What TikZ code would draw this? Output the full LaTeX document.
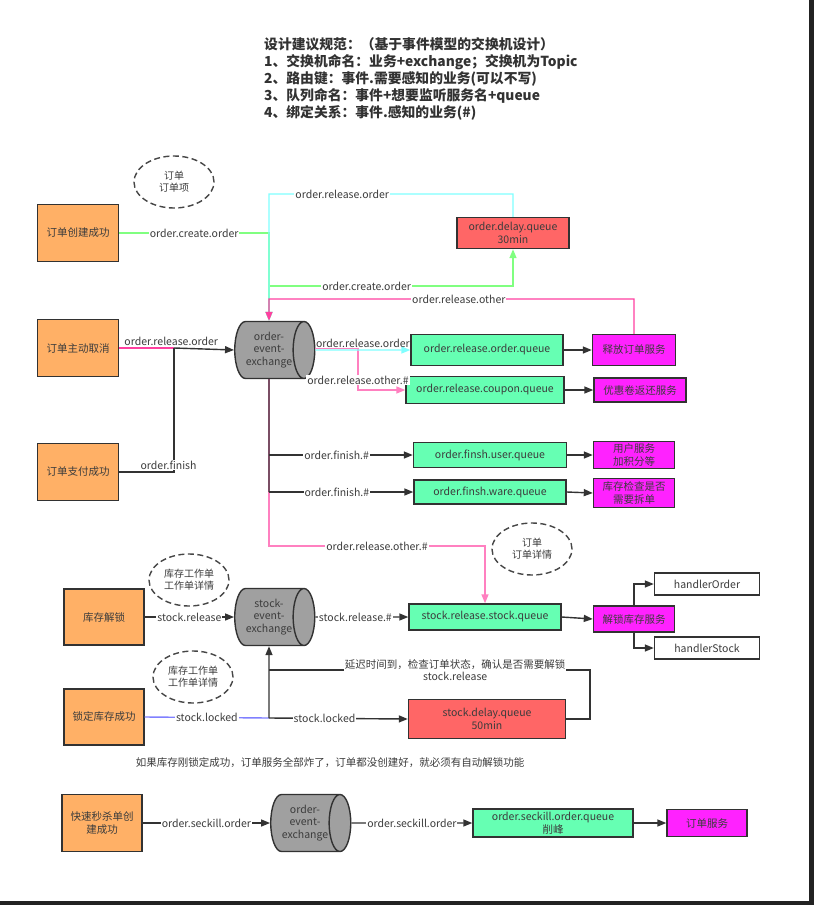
\documentclass[tikz,border=0pt]{standalone}
\usepackage{fontspec}
\setmainfont{Noto Sans CJK SC}
\usepackage{tikz}
\usetikzlibrary{arrows.meta,shapes.geometric}
\definecolor{EventOrange}{RGB}{255,176,102}
\definecolor{QueueMint}{RGB}{102,255,179}
\definecolor{DelayRed}{RGB}{255,102,102}
\definecolor{SvcMagenta}{RGB}{255,34,255}
\definecolor{ExchGray}{RGB}{160,160,160}
\definecolor{BoxEdge}{RGB}{50,50,50}
\definecolor{LineDark}{RGB}{51,51,51}
\definecolor{TextDark}{RGB}{60,60,60}
\definecolor{DashGray}{RGB}{70,70,70}
\definecolor{LinkGreen}{RGB}{128,255,128}
\definecolor{LinkCyan}{RGB}{128,255,255}
\definecolor{LinkPink}{RGB}{255,64,160}
\definecolor{LinkPinkLight}{RGB}{255,128,192}
\definecolor{LinkBlue}{RGB}{128,128,255}
\definecolor{FrameDark}{RGB}{34,34,34}

\tikzset{
  >={Triangle[length=9pt,width=7pt]},
  lnk/.style={line width=1.4pt, draw=LineDark},
  lbl/.style={fill=white, inner sep=1pt, text=TextDark,
              font=\fontsize{10.5}{12}\selectfont, align=center},
  basebox/.style={draw=BoxEdge, line width=1.4pt, text=TextDark, align=center,
                  inner sep=0pt, font=\fontsize{10.5}{12.5}\selectfont},
  evbox/.style={basebox, fill=EventOrange, minimum width=81pt, minimum height=57pt},
  qbox/.style={basebox, fill=QueueMint},
  svcbox/.style={basebox, fill=SvcMagenta},
  delaybox/.style={basebox, fill=DelayRed},
  hbox/.style={basebox, fill=white, minimum width=105pt, minimum height=22pt},
  exch/.style={cylinder, shape border rotate=0, aspect=0.6, draw=BoxEdge,
               line width=1.4pt, fill=ExchGray, text=TextDark, align=center,
               inner sep=0pt, minimum height=80pt, minimum width=57pt,
               font=\fontsize{10.5}{12.5}\selectfont},
  memo/.style={ellipse, draw=DashGray, dash pattern=on 6pt off 3.5pt, line width=1.4pt,
               text=TextDark, align=center, inner sep=0pt, minimum width=80pt,
               minimum height=52pt, font=\fontsize{10}{12}\selectfont}
}

\begin{document}
\begin{tikzpicture}[x=1pt,y=-1pt]
  \useasboundingbox (0,0) rectangle (814,905);
  \fill[white] (0,0) rectangle (814,905);
  \fill[FrameDark] (809,0) rectangle (814,905);
  \fill[FrameDark] (0,901) rectangle (814,905);

  % rules
  \node[anchor=north west, align=left, text=BoxEdge, inner sep=0pt,
        font=\bfseries\fontsize{13.8}{17}\selectfont] (title) at (264,37)
    {设计建议规范：（基于事件模型的交换机设计）\\
     1、交换机命名：业务+exchange；交换机为Topic\\
     2、路由键：事件.需要感知的业务(可以不写)\\
     3、队列命名：事件+想要监听服务名+queue\\
     4、绑定关系：事件.感知的业务(\#)};

  % order events
  \node[memo] (memoOrder) at (174,182) {订单\\订单项};
  \node[evbox] (create) at (78,233) {订单创建成功};
  \node[evbox] (cancel) at (78,348) {订单主动取消};
  \node[evbox] (pay) at (78,472) {订单支付成功};
  \node[exch] (oex) at (269,350) {order-\\event-\\exchange};
  \node[delaybox, minimum width=112pt, minimum height=31pt] (delay) at (513,233) {order.delay.queue\\30min};

  % order queues
  \node[qbox, minimum width=152pt, minimum height=31pt] (relq) at (487,350) {order.release.order.queue};
  \node[qbox, minimum width=158pt, minimum height=27pt] (couponq) at (485,390) {order.release.coupon.queue};
  \node[qbox, minimum width=153pt, minimum height=25pt] (userq) at (490,455) {order.finsh.user.queue};
  \node[qbox, minimum width=152pt, minimum height=24pt] (wareq) at (490,492) {order.finsh.ware.queue};
  \node[svcbox, minimum width=83pt, minimum height=31pt] (relsvc) at (634,350) {释放订单服务};
  \node[svcbox, minimum width=92pt, minimum height=24pt] (couponsvc) at (640,390) {优惠卷返还服务};
  \node[svcbox, minimum width=81pt, minimum height=27pt] (usersvc) at (634,455) {用户服务\\加积分等};
  \node[svcbox, minimum width=81pt, minimum height=29pt] (waresvc) at (634,493) {库存检查是否\\需要拆单};

  % stock events
  \node[memo] (memoDetail) at (532,549) {订单\\订单详情};
  \node[memo] (memoStock1) at (189,580) {库存工作单\\工作单详情};
  \node[memo] (memoStock2) at (193,677) {库存工作单\\工作单详情};
  \node[evbox, minimum width=80pt, minimum height=56pt] (unlock) at (104,617) {库存解锁};
  \node[evbox, minimum width=80pt, minimum height=56pt] (locked) at (104,717) {锁定库存成功};
  \node[exch] (sex) at (269,617) {stock-\\event-\\exchange};
  \node[qbox, minimum width=152pt, minimum height=26pt] (srsq) at (485,617) {stock.release.stock.queue};
  \node[svcbox, minimum width=81pt, minimum height=26pt] (unsvc) at (634,619) {解锁库存服务};
  \node[hbox] (hOrder) at (707,584) {handlerOrder};
  \node[hbox] (hStock) at (707,648) {handlerStock};
  \node[delaybox, minimum width=157pt, minimum height=39pt] (sdq) at (487,719) {stock.delay.queue\\50min};
  \node[text=TextDark, font=\fontsize{10.5}{12}\selectfont] (note) at (330,763)
    {如果库存刚锁定成功，订单服务全部炸了，订单都没创建好，就必须有自动解锁功能};

  % seckill
  \node[evbox, minimum width=80pt, minimum height=57pt] (seckill) at (102,823) {快速秒杀单创\\建成功};
  \node[exch] (oex2) at (305,823) {order-\\event-\\exchange};
  \node[qbox, minimum width=160pt, minimum height=28pt] (skq) at (553,823) {order.seckill.order.queue\\削峰};
  \node[svcbox, minimum width=80pt, minimum height=27pt] (osvc) at (707,823) {订单服务};

  \coordinate (cTop) at (269,194);
  \coordinate (gTurn) at (269,286);
  \coordinate (pTop) at (269,299);
  \coordinate (jLeft) at (174,348);
  \coordinate (pDrop) at (358,390);
  \coordinate (pBot) at (485,546);
  \coordinate (fin1) at (269,455);
  \coordinate (fin2) at (269,492);
  \coordinate (lockJ) at (269,718);
  \coordinate (backR) at (590,670);
  \coordinate (backL) at (269,670);

  % order.create.order
  \draw[lnk, draw=LinkGreen, ->] (create.east) -- node[lbl]{order.create.order} (create.east -| oex.north) -- (oex.north);
  \draw[lnk, draw=LinkGreen, ->] (gTurn) -| node[lbl, pos=0.2]{order.create.order} (delay.south);
  % order.release.order
  \draw[lnk, draw=LinkCyan, ->] (delay.north) |- node[lbl, pos=0.85]{order.release.order} (cTop) -- (oex.north);
  % order.release.other
  \draw[lnk, draw=LinkPink, ->] (relsvc.north) |- node[lbl, pos=0.74]{order.release.other} (pTop) -- (oex.north);

  \draw[lnk, draw=LinkPink] (cancel.east) -- node[lbl, above=1pt, pos=0.95, fill=none]{order.release.order} (jLeft);
  \draw[lnk, ->] (jLeft) -- (oex.west);
  \draw[lnk] (pay.east) -| node[lbl, above=1pt, pos=0.45]{order.finish} (jLeft);

  \draw[lnk, draw=LinkPinkLight, ->] ([yshift=1.5pt]oex.east) -| node[lbl, pos=0.88]{order.release.other.\#} (pDrop) -- (couponq.west);
  \draw[lnk, draw=LinkCyan, ->] (oex.east) -- node[lbl, above=1pt, fill=none]{order.release.order} (relq.west);
  \draw[lnk, draw=LinkPinkLight, ->] (oex.south) |- node[lbl, pos=0.75]{order.release.other.\#} (pBot) -- (srsq.north);
  \draw[lnk] (oex.south) -- (fin2);
  \draw[lnk, ->] (fin1) -- node[lbl, pos=0.47]{order.finish.\#} (userq.west);
  \draw[lnk, ->] (fin2) -- node[lbl, pos=0.47]{order.finish.\#} (wareq.west);
  \draw[lnk, ->] (relq.east) -- (relsvc.west);
  \draw[lnk, ->] (couponq.east) -- (couponsvc.west);
  \draw[lnk, ->] (userq.east) -- (usersvc.west);
  \draw[lnk, ->] (wareq.east) -- (waresvc.west);

  % stock
  \draw[lnk, ->] (unlock.east) -- node[lbl]{stock.release} (sex.west);
  \draw[lnk, ->] (sex.east) -- node[lbl, pos=0.43]{stock.release.\#} (srsq.west);
  \draw[lnk, ->] (srsq.east) -- (unsvc.west);
  \draw[lnk, ->] (unsvc.north) |- (hOrder.west);
  \draw[lnk, ->] (unsvc.south) |- (hStock.west);
  \draw[lnk, draw=LinkBlue] (locked.east) -- node[lbl]{stock.locked} (lockJ);
  \draw[lnk, ->] (lockJ) -- (sex.south);
  \draw[lnk, ->] (lockJ) -- node[lbl, pos=0.4]{stock.locked} (sdq.west);
  \draw[lnk] (sdq.east) -| (backR) -- node[lbl, pos=0.42]{延迟时间到，检查订单状态，确认是否需要解锁\\stock.release} (backL);

  % seckill
  \draw[lnk, ->] (seckill.east) -- node[lbl]{order.seckill.order} (oex2.west);
  \draw[lnk, ->] (oex2.east) -- node[lbl]{order.seckill.order} (skq.west);
  \draw[lnk, ->] (skq.east) -- (osvc.west);
\end{tikzpicture}
\end{document}
